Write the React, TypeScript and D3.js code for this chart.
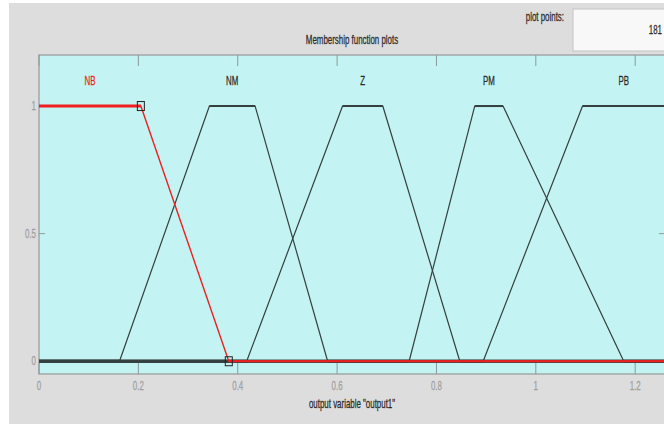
import React from "react";
import * as d3 from "d3";

// ---- data ----
const X_MAX = 1.26;
const xTickValues = [0, 0.2, 0.4, 0.6, 0.8, 1, 1.2];
const xTickLabels = ["0", "0.2", "0.4", "0.6", "0.8", "1", "1.2"];
const yTickValues = [0, 0.5, 1];
const yTickLabels = ["0", "0.5", "1"];

const mfNames = ["NB", "NM", "Z", "PM", "PB"];
// vertices (x, membership) of each trapezoidal MF
const mfNB: [number, number][] = [[0, 1], [0.205, 1], [0.382, 0], [X_MAX, 0]];
const mfNM: [number, number][] = [[0, 0], [0.162, 0], [0.343, 1], [0.435, 1], [0.581, 0], [X_MAX, 0]];
const mfZ: [number, number][] = [[0, 0], [0.418, 0], [0.611, 1], [0.692, 1], [0.847, 0], [X_MAX, 0]];
const mfPM: [number, number][] = [[0, 0], [0.745, 0], [0.877, 1], [0.934, 1], [1.177, 0], [X_MAX, 0]];
const mfPB: [number, number][] = [[0, 0], [0.894, 0], [1.094, 1], [X_MAX, 1]];
const mfList = [mfNB, mfNM, mfZ, mfPM, mfPB];
const selectedIndex = 0;
// label x positions = centre of each plateau
const labelPlateaus: [number, number][] = [[0, 0.205], [0.343, 0.435], [0.611, 0.692], [0.877, 0.934], [1.094, X_MAX]];

const titleText = "Membership function plots";
const xLabelText = 'output variable "output1"';
const plotPointsLabel = "plot points:";
const plotPointsValue = "181";

// ---- layout ----
const W = 664;
const H = 425;
const FONT = "'Liberation Sans', Arial, sans-serif";
const SX = 0.66;

const x = d3.scaleLinear().domain([0, X_MAX]).range([39, 665]);
const y = d3.scaleLinear().domain([-0.05, 1.2]).range([374, 55]);

function T(props: {
  x: number; y: number; text: string; anchor?: string; color?: string; size?: number;
}) {
  const { text, anchor = "middle", color = "#2a2a2a", size = 12 } = props;
  return (
    <text
      transform={`translate(${props.x},${props.y}) scale(${SX},1)`}
      textAnchor={anchor}
      fill={color}
      stroke={color}
      strokeWidth={0.25}
      fontSize={size}
      fontFamily={FONT}
    >
      {text}
    </text>
  );
}

function segments(pts: [number, number][]) {
  const out: { a: [number, number]; b: [number, number] }[] = [];
  for (let i = 0; i < pts.length - 1; i++) out.push({ a: pts[i], b: pts[i + 1] });
  return out;
}

export default function App() {
  const line = d3.line<[number, number]>().x((d) => x(d[0])).y((d) => y(d[1]));
  const [x0, x1] = x.range();
  const [yb, yt] = y.range();
  const dark = "#34403f";
  const red = "#f02020";

  const others = mfList.filter((_, i) => i !== selectedIndex);
  const sel = mfList[selectedIndex];

  return (
    <svg width={W} height={H} style={{ position: "absolute", left: 0, top: 0, display: "block" }}>
      <rect x={0} y={0} width={W} height={H} fill="#ffffff" />
      <rect x={9} y={3} width={W - 9} height={H - 4} fill="#dddddd" />

      {/* plot points box */}
      <T x={564} y={21} text={plotPointsLabel} anchor="end" />
      <rect x={573} y={9} width={110} height={42} fill="#f8f8f8" stroke="#c4c4c4" strokeWidth={1} />
      <T x={662} y={34} text={plotPointsValue} anchor="end" />

      {/* title */}
      <T x={352} y={44} text={titleText} />

      {/* axes background */}
      <rect x={x0} y={yt} width={x1 - x0} height={yb - yt} fill="#c3f3f2" stroke="#a2a8a8" strokeWidth={1.5} />

      {/* ticks */}
      {xTickValues.map((v) => (
        <g key={"xt" + v}>
          <line x1={x(v)} x2={x(v)} y1={yt} y2={yt + 11} stroke="#8c9a9a" strokeWidth={1} />
          <line x1={x(v)} x2={x(v)} y1={yb} y2={yb - 11} stroke="#8c9a9a" strokeWidth={1} />
        </g>
      ))}
      {yTickValues.map((v) => (
        <g key={"yt" + v}>
          <line x1={x0} x2={x0 + 6} y1={y(v)} y2={y(v)} stroke="#8c9a9a" strokeWidth={1} />
          <line x1={x1} x2={x1 - 6} y1={y(v)} y2={y(v)} stroke="#8c9a9a" strokeWidth={1} />
        </g>
      ))}

      {/* tick labels */}
      {xTickValues.map((v, i) => (
        <T key={"xl" + v} x={x(v)} y={390} text={xTickLabels[i]} color="#a0a0a0" />
      ))}
      {yTickValues.map((v, i) => (
        <T key={"yl" + v} x={36} y={y(v) + 4} text={yTickLabels[i]} anchor="end" color="#a0a0a0" />
      ))}

      {/* x label */}
      <T x={352} y={408} text={xLabelText} />

      {/* unselected MFs */}
      {others.map((pts, k) => (
        <g key={"mf" + k}>
          <path d={line(pts) || ""} fill="none" stroke={dark} strokeWidth={1.2} strokeLinejoin="round" />
          {segments(pts)
            .filter((s) => s.a[1] === s.b[1])
            .map((s, j) => (
              <line
                key={j}
                x1={x(s.a[0])}
                x2={x(s.b[0])}
                y1={y(s.a[1])}
                y2={y(s.b[1])}
                stroke={dark}
                strokeWidth={s.a[1] === 0 ? 3 : 2}
              />
            ))}
        </g>
      ))}

      {/* selected MF */}
      <path d={line(sel) || ""} fill="none" stroke={red} strokeWidth={1.4} strokeLinejoin="round" />
      {segments(sel)
        .filter((s) => s.a[1] === s.b[1])
        .map((s, j) => (
          <line
            key={"sel" + j}
            x1={x(s.a[0])}
            x2={x(s.b[0])}
            y1={y(s.a[1])}
            y2={y(s.b[1])}
            stroke={red}
            strokeWidth={s.a[1] === 0 ? 1.8 : 3}
          />
        ))}
      {sel.slice(1, sel.length - 1).map((p, j) => (
        <rect
          key={"sq" + j}
          x={x(p[0]) - 3.5}
          y={y(p[1]) - 4.5}
          width={7}
          height={9}
          fill="none"
          stroke="#222"
          strokeWidth={1}
        />
      ))}

      {/* MF labels */}
      {mfNames.map((n, i) => (
        <T
          key={n}
          x={x((labelPlateaus[i][0] + labelPlateaus[i][1]) / 2)}
          y={y(1.1) + 4}
          text={n}
          color={i === selectedIndex ? "#f02020" : "#2a2a2a"}
        />
      ))}
    </svg>
  );
}
